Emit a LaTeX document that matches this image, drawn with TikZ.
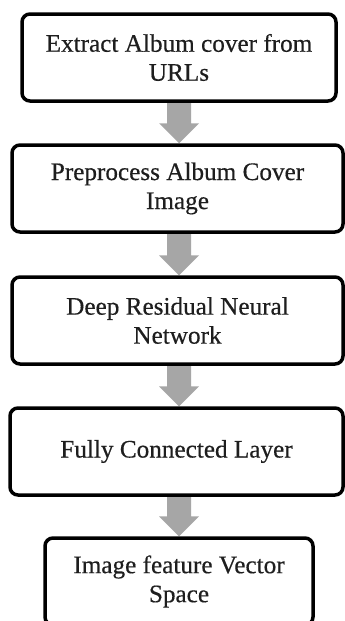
\documentclass[tikz,border=0pt]{standalone}
\usepackage{fontspec}
\setmainfont{Liberation Serif}[FakeBold=0.4]
\usetikzlibrary{backgrounds}
\definecolor{arrowgray}{HTML}{A6A6A6}
\definecolor{txtcol}{HTML}{1E1E1E}
\begin{document}
\begin{tikzpicture}[x=1pt,y=-1pt,
  stagebox/.style={draw=black, line width=3.5pt, rounded corners=8pt, fill=white,
    align=center, text=txtcol, font=\fontsize{25.2}{29}\selectfont, inner sep=0pt,
    minimum height=87pt},
  flowarrow/.style={fill=arrowgray}]
\useasboundingbox (0,0) rectangle (345,621);
\clip (0,0) rectangle (345,621);
\coordinate (ax) at (179,0);
\node[stagebox, minimum width=314pt] (b1) at (179,57.5) {Extract Album cover from\\URLs};
\node[stagebox, minimum width=331pt] (b2) at (177.5,188.5) {Preprocess Album Cover\\Image};
\node[stagebox, minimum width=331pt] (b3) at (177.5,320.5) {Deep Residual Neural\\Network};
\node[stagebox, minimum width=333pt] (b4) at (176.5,451.5) {Fully Connected Layer};
\node[stagebox, minimum width=268pt] (b5) at (179,581.5) {Image feature Vector\\Space};
\begin{pgfonlayer}{background}
\fill[white] (0,0) rectangle (345,621);
\foreach \a/\b in {b1/b2,b2/b3,b3/b4,b4/b5}{
  \fill[flowarrow] ([xshift=-12pt]ax |- \a.south) -- ([xshift=12pt]ax |- \a.south)
    -- ([xshift=12pt,yshift=20pt]ax |- \b.north) -- ([xshift=20pt,yshift=20pt]ax |- \b.north)
    -- (ax |- \b.north) -- ([xshift=-20pt,yshift=20pt]ax |- \b.north)
    -- ([xshift=-12pt,yshift=20pt]ax |- \b.north) -- cycle;
}
\end{pgfonlayer}
\end{tikzpicture}
\end{document}
